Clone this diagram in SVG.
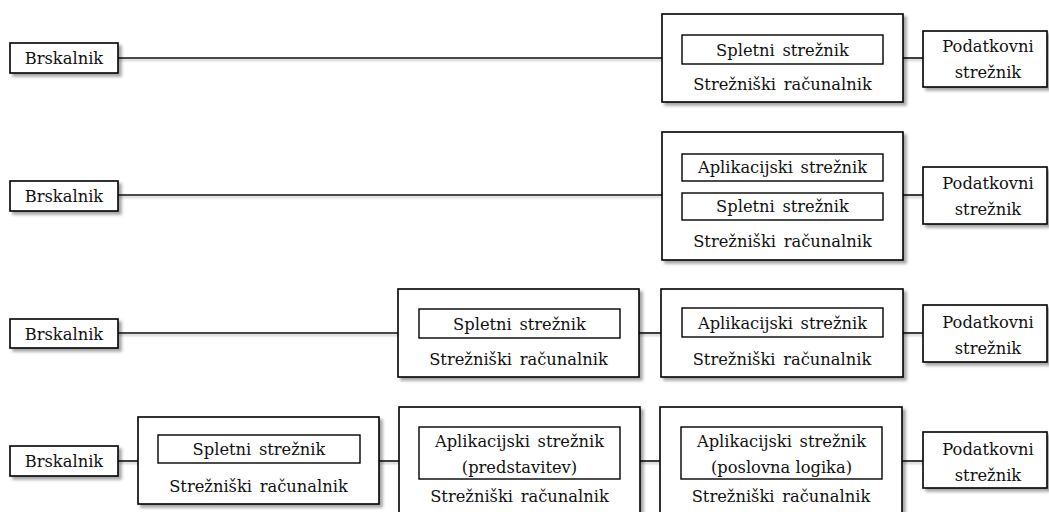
<svg xmlns="http://www.w3.org/2000/svg" width="1049" height="512" viewBox="0 0 1049 512">
  <defs>
    <filter id="shadow" x="-10%" y="-10%" width="130%" height="140%">
      <feDropShadow dx="3" dy="3" stdDeviation="1.8" flood-color="#000" flood-opacity="0.35"/>
    </filter>
    <!-- user-space region so zero-height horizontal lines still render -->
    <filter id="lineShadow" filterUnits="userSpaceOnUse" x="0" y="0" width="1049" height="512">
      <feDropShadow dx="1" dy="2" stdDeviation="1.2" flood-color="#000" flood-opacity="0.25"/>
    </filter>
  </defs>
  <style>
    .box { fill: #fff; stroke: #000; stroke-width: 1.6; filter: url(#shadow); }
    .inner { fill: #fff; stroke: #000; stroke-width: 1.4; }
    .wire { stroke: #111; stroke-width: 1.6; fill: none; }
    .lbl { font-family: 'DejaVu Serif', serif; font-size: 16.3px; fill: #111; text-anchor: middle; }
    .ws { word-spacing: 2.5px; }
  </style>

  <rect width="1049" height="512" fill="#fff"/>

  <!-- connectors -->
  <g id="connectors" filter="url(#lineShadow)">
    <line class="wire" x1="118" y1="58" x2="662" y2="58"/>
    <line class="wire" x1="903" y1="58" x2="923" y2="58"/>

    <line class="wire" x1="118" y1="195" x2="662" y2="195"/>
    <line class="wire" x1="903" y1="195" x2="923" y2="195"/>

    <line class="wire" x1="118" y1="333" x2="398" y2="333"/>
    <line class="wire" x1="639" y1="333" x2="661" y2="333"/>
    <line class="wire" x1="903" y1="333" x2="923" y2="333"/>

    <line class="wire" x1="118" y1="461" x2="138" y2="461"/>
    <line class="wire" x1="379" y1="461" x2="399" y2="461"/>
    <line class="wire" x1="640" y1="461" x2="660" y2="461"/>
    <line class="wire" x1="902" y1="461" x2="923" y2="461"/>
  </g>

  <!-- row 1 -->
  <g id="r1-browser">
    <rect class="box" x="10" y="43" width="108" height="30"/>
    <text class="lbl" x="64" y="64">Brskalnik</text>
  </g>
  <g id="r1-server">
    <rect class="box" x="662" y="14" width="241" height="88"/>
    <rect class="inner" x="682" y="35" width="201" height="29"/>
    <text class="lbl ws" x="782.5" y="56">Spletni strežnik</text>
    <text class="lbl ws" x="782.5" y="90">Strežniški računalnik</text>
  </g>
  <g id="r1-db">
    <rect class="box" x="923" y="31" width="124" height="56"/>
    <text class="lbl" x="988" y="52">Podatkovni</text>
    <text class="lbl" x="988" y="78">strežnik</text>
  </g>

  <!-- row 2 -->
  <g id="r2-browser">
    <rect class="box" x="10" y="181" width="108" height="30"/>
    <text class="lbl" x="64" y="202">Brskalnik</text>
  </g>
  <g id="r2-server">
    <rect class="box" x="662" y="132" width="241" height="128"/>
    <rect class="inner" x="682" y="154" width="201" height="27"/>
    <text class="lbl ws" x="782.5" y="173">Aplikacijski strežnik</text>
    <rect class="inner" x="682" y="193" width="201" height="27"/>
    <text class="lbl ws" x="782.5" y="212">Spletni strežnik</text>
    <text class="lbl ws" x="782.5" y="247">Strežniški računalnik</text>
  </g>
  <g id="r2-db">
    <rect class="box" x="923" y="167" width="124" height="57"/>
    <text class="lbl" x="988" y="189">Podatkovni</text>
    <text class="lbl" x="988" y="215">strežnik</text>
  </g>

  <!-- row 3 -->
  <g id="r3-browser">
    <rect class="box" x="10" y="319" width="108" height="29"/>
    <text class="lbl" x="64" y="340">Brskalnik</text>
  </g>
  <g id="r3-web">
    <rect class="box" x="398" y="289" width="241" height="88"/>
    <rect class="inner" x="419" y="309" width="201" height="29"/>
    <text class="lbl ws" x="519.5" y="330">Spletni strežnik</text>
    <text class="lbl ws" x="518.5" y="365">Strežniški računalnik</text>
  </g>
  <g id="r3-app">
    <rect class="box" x="661" y="289" width="242" height="88"/>
    <rect class="inner" x="682" y="308" width="201" height="29"/>
    <text class="lbl ws" x="782.5" y="329">Aplikacijski strežnik</text>
    <text class="lbl ws" x="782" y="365">Strežniški računalnik</text>
  </g>
  <g id="r3-db">
    <rect class="box" x="923" y="305" width="124" height="57"/>
    <text class="lbl" x="988" y="328">Podatkovni</text>
    <text class="lbl" x="988" y="354">strežnik</text>
  </g>

  <!-- row 4 -->
  <g id="r4-browser">
    <rect class="box" x="10" y="446" width="108" height="30"/>
    <text class="lbl" x="64" y="467">Brskalnik</text>
  </g>
  <g id="r4-web">
    <rect class="box" x="138" y="417" width="241" height="87"/>
    <rect class="inner" x="158" y="435" width="202" height="28"/>
    <text class="lbl ws" x="259" y="455">Spletni strežnik</text>
    <text class="lbl ws" x="258.5" y="492">Strežniški računalnik</text>
  </g>
  <g id="r4-presentation">
    <rect class="box" x="399" y="407" width="241" height="120"/>
    <rect class="inner" x="419" y="427" width="201" height="52"/>
    <text class="lbl ws" x="519.5" y="447">Aplikacijski strežnik</text>
    <text class="lbl" x="519.5" y="473">(predstavitev)</text>
    <text class="lbl ws" x="519.5" y="502">Strežniški računalnik</text>
  </g>
  <g id="r4-logic">
    <rect class="box" x="660" y="407" width="242" height="120"/>
    <rect class="inner" x="681" y="427" width="201" height="52"/>
    <text class="lbl ws" x="781.5" y="447">Aplikacijski strežnik</text>
    <text class="lbl" x="781.5" y="473">(poslovna logika)</text>
    <text class="lbl ws" x="781" y="502">Strežniški računalnik</text>
  </g>
  <g id="r4-db">
    <rect class="box" x="923" y="432" width="124" height="56"/>
    <text class="lbl" x="988" y="455">Podatkovni</text>
    <text class="lbl" x="988" y="481">strežnik</text>
  </g>
</svg>
